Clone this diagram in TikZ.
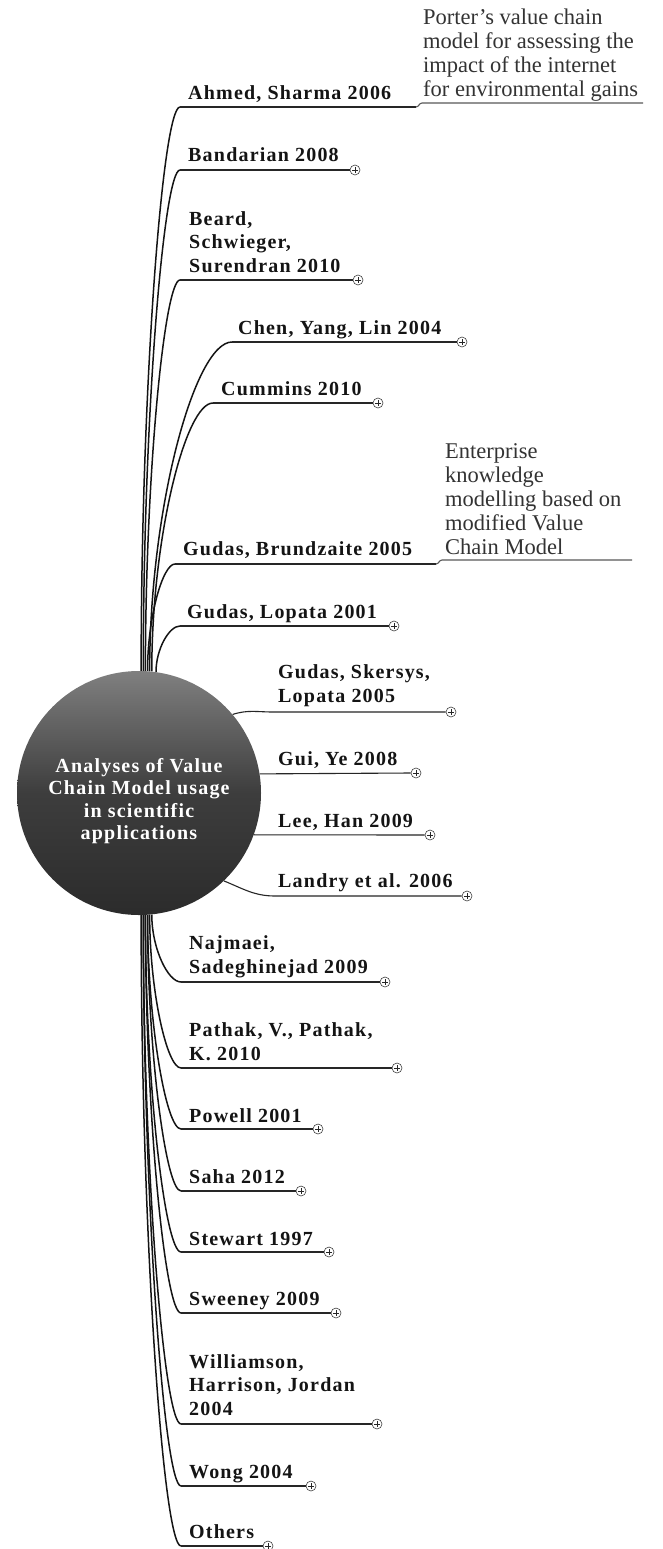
\documentclass[tikz,border=0pt]{standalone}
\usepackage{fontspec}
\setmainfont{Liberation Serif}
\newfontfamily\lblfont[LetterSpace=6]{Liberation Serif}
\usetikzlibrary{calc}
\tikzset{
  lbl/.style={font=\lblfont\bfseries\fontsize{20}{23.5}\selectfont, text=black!92, inner sep=0pt, anchor=base west},
  note/.style={font=\fontsize{22.5}{24}\selectfont, text=black!80, inner sep=0pt, anchor=base west},
  hubtextstyle/.style={font=\lblfont\bfseries\fontsize{20}{22.5}\selectfont, text=white, align=center, inner sep=0pt},
  hubstyle/.style={circle, minimum size=244pt, inner sep=0pt, top color=black!50, bottom color=black!83, middle color=black!76},
  branchline/.style={line width=1.5pt, black!92},
  ruleline/.style={line width=1.1pt, black!85},
  noteline/.style={line width=1.1pt, black!65},
  expander/.style={circle, draw=black!75, line width=0.6pt, fill=white, minimum size=10pt, inner sep=0pt,
    path picture={
      \draw[line width=0.6pt, black!85] ([xshift=-2.6pt]path picture bounding box.center) -- ([xshift=2.6pt]path picture bounding box.center);
      \draw[line width=0.6pt, black!85] ([yshift=-2.6pt]path picture bounding box.center) -- ([yshift=2.6pt]path picture bounding box.center);
    }},
}
\newcommand\drawbranch[3]{%
  \coordinate (bm) at ($(#1)!0.5!(#2)$);
  \coordinate (bn) at ($(#1)!0.55!(#2)$);
  \draw[branchline] (#1) .. controls (#1 |- bm) and (bn |- #2) .. (#2);
  \draw[ruleline] (#2) -- (#3);}
\begin{document}
\begin{tikzpicture}[x=1pt,y=-1pt]
\fill[white] (0,0) rectangle (663,1549);
\useasboundingbox (0,0) rectangle (663,1549);

% hub (drawn as a coordinate reference first; shape drawn after the branches)
\path (139,793) node[circle, minimum size=244pt, inner sep=0pt] (hub) {};

% ---------- upper branches ----------
\node[lbl] (ahmed) at (188,100) {Ahmed, Sharma 2006};
\coordinate (ahmedE) at (180,107);
\coordinate (ahmedK) at (416,107);
\coordinate (ahmedK2) at (422,103);
\coordinate (ahmedEnd) at (643,103);
\node[note] (porter) at (423,97) {\begin{tabular}[b]{@{}l@{}}Porter’s value chain\\model for assessing the\\impact of the internet\\for environmental gains\end{tabular}};
\coordinate (bm) at ($(hub.89)!0.5!(ahmedE)$);
\coordinate (bn) at ($(hub.89)!0.55!(ahmedE)$);
\draw[branchline] (hub.89) .. controls (hub.89 |- bm) and (bn |- ahmedE) .. (ahmedE);
\draw[ruleline] (ahmedE) -- (ahmedK);
\draw[noteline] (ahmedK) .. controls (419,107) and (419,103) .. (ahmedK2) -- (ahmedEnd);

\node[lbl] (band) at (188,162) {Bandarian 2008};
\node[expander] (bandX) at (355,170) {};
\coordinate (bandE) at (180,170);
\drawbranch{hub.88}{bandE}{bandX.west}

\node[lbl] (beard) at (189,272) {\begin{tabular}[b]{@{}l@{}}Beard,\\Schwieger,\\Surendran 2010\end{tabular}};
\node[expander] (beardX) at (358,280) {};
\coordinate (beardE) at (180,280);
\drawbranch{hub.87}{beardE}{beardX.west}

\node[lbl] (chen) at (238,334) {Chen, Yang, Lin 2004};
\node[expander] (chenX) at (462,342) {};
\coordinate (chenE) at (232,342);
\drawbranch{hub.85}{chenE}{chenX.west}

\node[lbl] (cummins) at (221,395) {Cummins 2010};
\node[expander] (cumminsX) at (378,403) {};
\coordinate (cumminsE) at (213,403);
\drawbranch{hub.84}{cumminsE}{cumminsX.west}

\node[lbl] (brund) at (183,555) {Gudas, Brundzaite 2005};
\coordinate (brundE) at (175,564);
\coordinate (brundK) at (436,564);
\coordinate (brundK2) at (442,560);
\coordinate (brundEnd) at (632,560);
\node[note] (enterprise) at (445,554) {\begin{tabular}[b]{@{}l@{}}Enterprise\\knowledge\\modelling based on\\modified Value\\Chain Model\end{tabular}};
\coordinate (bm) at ($(hub.86)!0.5!(brundE)$);
\coordinate (bn) at ($(hub.86)!0.55!(brundE)$);
\draw[branchline] (hub.86) .. controls (hub.86 |- bm) and (bn |- brundE) .. (brundE);
\draw[ruleline] (brundE) -- (brundK);
\draw[noteline] (brundK) .. controls (439,564) and (439,560) .. (brundK2) -- (brundEnd);

\node[lbl] (lopata) at (187,618) {Gudas, Lopata 2001};
\node[expander] (lopataX) at (394,626) {};
\coordinate (lopataE) at (180,626);
\drawbranch{hub.82}{lopataE}{lopataX.west}

% ---------- right branches ----------
\node[lbl] (skersys) at (278,702) {\begin{tabular}[b]{@{}l@{}}Gudas, Skersys,\\Lopata 2005\end{tabular}};
\node[expander] (skersysX) at (451,712) {};
\coordinate (skersysE) at (273,712);
\draw[ruleline] (hub.40) to[out=18,in=180] (skersysE) -- (skersysX.west);

\node[lbl] (gui) at (278,765) {Gui, Ye 2008};
\node[expander] (guiX) at (416,773) {};
\draw[ruleline] (hub.9.5) -- (guiX.west);

\node[lbl] (lee) at (278,827) {Lee, Han 2009};
\node[expander] (leeX) at (430,835) {};
\draw[ruleline] (hub.-20) -- (leeX.west);

\node[lbl] (landry) at (278,887) {Landry et al. 2006};
\node[expander] (landryX) at (467,896) {};
\coordinate (landryE) at (275,896);
\draw[ruleline] (hub.-46) to[out=-22,in=180] (landryE) -- (landryX.west);

% ---------- lower branches ----------
\node[lbl] (najmaei) at (189,973) {\begin{tabular}[b]{@{}l@{}}Najmaei,\\Sadeghinejad 2009\end{tabular}};
\node[expander] (najmaeiX) at (385,982) {};
\coordinate (najmaeiE) at (181,982);
\drawbranch{hub.-84}{najmaeiE}{najmaeiX.west}

\node[lbl] (pathak) at (189,1060) {\begin{tabular}[b]{@{}l@{}}Pathak, V., Pathak,\\K. 2010\end{tabular}};
\node[expander] (pathakX) at (397,1068) {};
\coordinate (pathakE) at (181,1068);
\drawbranch{hub.-85}{pathakE}{pathakX.west}

\node[lbl] (powell) at (189,1122) {Powell 2001};
\node[expander] (powellX) at (318,1129) {};
\coordinate (powellE) at (181,1129);
\drawbranch{hub.-86}{powellE}{powellX.west}

\node[lbl] (saha) at (189,1183) {Saha 2012};
\node[expander] (sahaX) at (301,1191) {};
\coordinate (sahaE) at (181,1191);
\drawbranch{hub.-86.5}{sahaE}{sahaX.west}

\node[lbl] (stewart) at (189,1245) {Stewart 1997};
\node[expander] (stewartX) at (329,1252) {};
\coordinate (stewartE) at (181,1252);
\drawbranch{hub.-87}{stewartE}{stewartX.west}

\node[lbl] (sweeney) at (189,1305) {Sweeney 2009};
\node[expander] (sweeneyX) at (336,1313) {};
\coordinate (sweeneyE) at (181,1313);
\drawbranch{hub.-87.5}{sweeneyE}{sweeneyX.west}

\node[lbl] (williamson) at (189,1415) {\begin{tabular}[b]{@{}l@{}}Williamson,\\Harrison, Jordan\\2004\end{tabular}};
\node[expander] (williamsonX) at (377,1424) {};
\coordinate (williamsonE) at (181,1424);
\drawbranch{hub.-88}{williamsonE}{williamsonX.west}

\node[lbl] (wong) at (189,1478) {Wong 2004};
\node[expander] (wongX) at (311,1486) {};
\coordinate (wongE) at (181,1486);
\drawbranch{hub.-88.5}{wongE}{wongX.west}

\node[lbl] (others) at (189,1538) {Others};
\node[expander] (othersX) at (268,1546) {};
\coordinate (othersE) at (181,1546);
\drawbranch{hub.-89}{othersE}{othersX.west}

% ---------- hub on top ----------
\node[hubstyle] at (hub.center) {};
\node[hubtextstyle] (hubtext) at (139,801) {Analyses of Value\\Chain Model usage\\in scientific\\applications};
\end{tikzpicture}
\end{document}
